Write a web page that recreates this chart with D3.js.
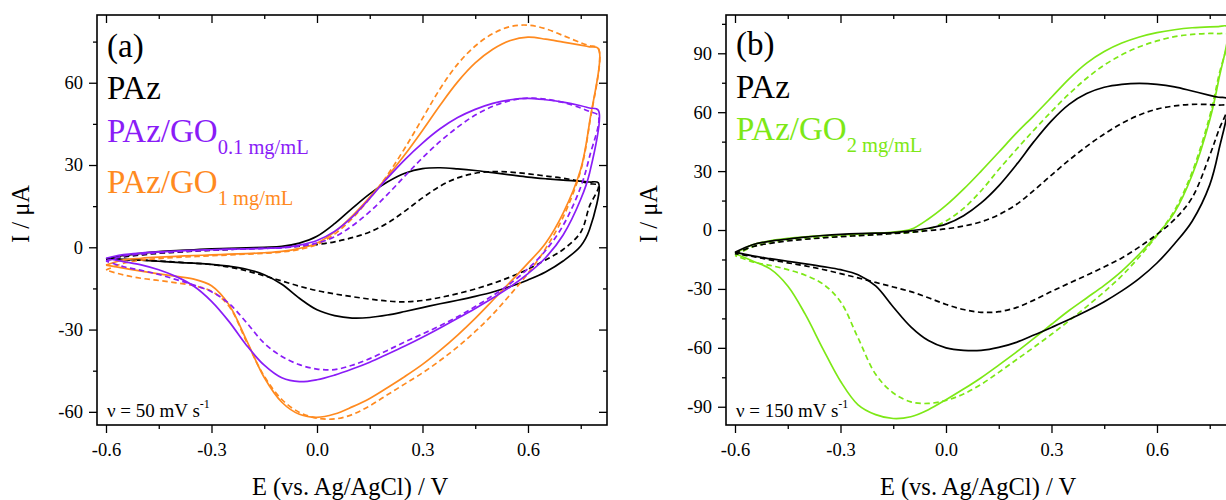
<!DOCTYPE html>
<html>
<head>
<meta charset="utf-8">
<script src="https://cdn.jsdelivr.net/npm/d3@7"></script>
<style>
  body { margin: 0; background: #fff; }
</style>
</head>
<body>
<div id="chart"></div>
<script>
// potential grid (V), shared by every curve; the last points are closer to catch the vertex
const E_GRID = [-0.6, -0.55, -0.5, -0.45, -0.4, -0.35, -0.3, -0.25, -0.2, -0.15, -0.1, -0.05,
  0, 0.05, 0.1, 0.15, 0.2, 0.25, 0.3, 0.35, 0.4, 0.45, 0.5, 0.55, 0.6, 0.65, 0.7, 0.75, 0.775, 0.8];

// ---- panel (a), 50 mV/s : anodic (forward) and cathodic (reverse) branches, uA
const PAZ_A_SOLID_FWD = [-4.2, -3.0, -2.2, -1.6, -1.2, -0.9, -0.6, -0.4, -0.2, 0, 0.3, 1.5,
  4.0, 8.6, 14.2, 19.5, 23.8, 27.0, 28.7, 29.0, 28.6, 28.0, 27.2, 26.4, 25.6, 25.0, 24.5, 24.1, 23.8, 23.5];
const PAZ_A_SOLID_REV = [-4.2, -4.4, -4.7, -5.1, -5.5, -5.8, -6.2, -6.9, -8.0, -10.0, -13.5, -18.6,
  -22.8, -24.9, -25.8, -25.6, -24.7, -23.4, -22.0, -20.6, -19.3, -17.9, -16.3, -14.3, -11.9, -9.0, -5.0, 0.5, 6.5, 23.5];
const PAZ_A_DASH_FWD = [-4.4, -3.5, -2.8, -2.2, -1.8, -1.4, -1.1, -0.8, -0.5, -0.3, 0, 0.4,
  1.0, 2.0, 3.5, 5.6, 8.8, 13.2, 18.0, 22.3, 25.3, 27.0, 27.6, 27.4, 26.8, 26.0, 25.2, 24.0, 23.2, 22.5];
const PAZ_A_DASH_REV = [-4.4, -4.5, -4.7, -5.0, -5.4, -5.8, -6.3, -7.2, -8.6, -10.4, -12.3, -14.2,
  -15.8, -17.0, -18.0, -18.9, -19.6, -19.9, -19.4, -18.3, -16.9, -15.2, -13.2, -10.8, -8.0, -4.6, -0.8, 5.5, 15.0, 22.5];

const GO01_SOLID_FWD = [-4.0, -2.7, -2.1, -1.7, -1.4, -1.1, -0.9, -0.7, -0.6, -0.4, -0.1, 0.8,
  2.5, 5.8, 11.0, 17.8, 25.2, 32.0, 38.0, 43.2, 47.3, 50.3, 52.5, 53.8, 54.3, 53.8, 52.9, 51.6, 50.8, 50.0];
const GO01_SOLID_REV = [-4.0, -5.2, -6.4, -8.2, -10.7, -14.2, -19.7, -27.1, -35.8, -43.0, -47.6, -49.0,
  -48.3, -46.6, -44.4, -41.9, -39.0, -36.0, -32.8, -29.4, -25.9, -22.3, -18.5, -14.4, -9.6, -3.8, 4.5, 17.5, 27.0, 50.0];
const GO01_DASH_FWD = [-5.0, -3.2, -2.5, -2.0, -1.6, -1.3, -1.0, -0.8, -0.6, -0.4, -0.2, 0.4,
  1.5, 3.8, 7.8, 13.0, 19.2, 26.0, 32.6, 38.6, 43.8, 48.2, 51.4, 53.5, 54.4, 54.0, 52.8, 50.8, 49.5, 48.0];
const GO01_DASH_REV = [-5.0, -7.1, -8.4, -9.9, -11.8, -13.8, -16.2, -20.5, -27.5, -35.0, -39.8, -42.8,
  -44.4, -44.6, -43.0, -40.6, -37.6, -34.5, -31.6, -28.6, -25.3, -21.6, -17.6, -13.2, -7.8, -1.2, 8.0, 22.0, 33.0, 48.0];

const GO1_SOLID_FWD = [-6.5, -4.6, -4.0, -3.6, -3.3, -3.0, -2.8, -2.5, -2.3, -2.0, -1.5, -0.4,
  1.5, 5.6, 11.4, 18.3, 25.7, 33.8, 42.6, 51.8, 60.3, 67.2, 72.2, 75.4, 76.6, 75.9, 74.8, 73.7, 73.1, 72.5];
const GO1_SOLID_REV = [-6.5, -7.6, -8.7, -9.7, -10.6, -11.6, -14.0, -21.0, -34.0, -47.5, -56.5, -60.9,
  -62.0, -60.8, -58.2, -55.1, -51.2, -47.1, -42.7, -37.6, -32.0, -25.9, -19.3, -12.6, -5.8, 1.5, 12.5, 28.5, 45.5, 72.5];
const GO1_DASH_FWD = [-8.3, -5.8, -4.7, -4.1, -3.7, -3.4, -3.1, -2.8, -2.5, -2.2, -1.7, -0.8,
  1.0, 4.8, 10.5, 17.8, 26.3, 36.2, 47.0, 57.8, 66.8, 73.4, 77.9, 80.5, 81.0, 79.7, 77.2, 74.6, 73.5, 72.5];
const GO1_DASH_REV = [-8.3, -10.1, -11.3, -12.1, -13.0, -14.0, -16.0, -21.5, -34.5, -47.0, -55.5, -60.2,
  -62.3, -62.6, -61.0, -57.8, -53.8, -49.8, -45.8, -41.3, -36.3, -30.7, -24.4, -17.2, -9.5, -0.5, 11.0, 28.0, 45.0, 72.5];

// ---- panel (b), 150 mV/s
const PAZ_B_SOLID_FWD = [-11.3, -7.5, -5.7, -4.6, -3.6, -2.8, -2.2, -1.8, -1.6, -1.3, -0.4, 0.9,
  3.0, 7.3, 13.8, 22.5, 33.2, 45.0, 55.6, 64.0, 69.5, 72.7, 74.2, 74.7, 74.2, 72.9, 70.8, 68.6, 67.6, 66.8];
const PAZ_B_SOLID_REV = [-11.3, -13.2, -14.6, -15.9, -17.2, -18.6, -20.2, -22.8, -28.5, -39.2, -49.3, -56.3,
  -60.0, -61.3, -61.3, -59.8, -57.2, -53.5, -49.6, -45.6, -41.3, -36.5, -31.0, -24.6, -16.8, -7.0, 4.5, 23.0, 40.0, 66.8];
const PAZ_B_DASH_FWD = [-12.0, -8.5, -6.8, -5.6, -4.7, -4.0, -3.4, -2.9, -2.4, -1.8, -1.2, -0.3,
  0.6, 2.0, 4.2, 7.8, 13.0, 20.2, 28.0, 35.6, 42.6, 48.9, 54.3, 58.6, 61.6, 63.2, 64.0, 63.9, 63.6, 63.2];
const PAZ_B_DASH_REV = [-12.0, -13.5, -15.2, -16.7, -18.3, -20.1, -22.2, -24.4, -26.7, -29.0, -31.4, -34.5,
  -37.9, -40.5, -41.9, -41.6, -39.5, -35.7, -31.3, -27.1, -23.0, -18.8, -14.2, -8.6, -2.2, 5.4, 16.5, 38.0, 50.5, 63.2];

const GO2_SOLID_FWD = [-12.0, -7.5, -5.5, -4.3, -3.5, -2.9, -2.5, -2.1, -1.6, -1.0, 0.3, 5.6,
  12.5, 20.8, 30.0, 39.6, 49.3, 58.3, 67.6, 77.0, 85.0, 90.9, 95.2, 98.3, 100.5, 102.0, 103.0, 103.5, 103.6, 103.6];
const GO2_SOLID_REV = [-12.0, -15.8, -19.8, -28.5, -43.0, -60.5, -77.0, -89.0, -94.0, -96.0, -95.1, -91.5,
  -86.4, -81.0, -75.2, -68.8, -62.2, -55.2, -48.0, -41.0, -34.6, -28.2, -20.9, -12.2, -2.5, 9.0, 28.0, 56.0, 76.0, 103.6];
const GO2_DASH_FWD = [-13.0, -8.5, -6.5, -5.2, -4.3, -3.6, -3.1, -2.7, -2.2, -1.6, -1.2, 0.3,
  4.6, 11.0, 20.0, 30.8, 41.0, 50.9, 60.4, 69.3, 77.3, 84.0, 89.2, 93.3, 96.3, 98.5, 99.6, 100.1, 100.0, 99.7];
const GO2_DASH_REV = [-13.0, -16.2, -18.0, -20.2, -23.0, -27.5, -36.5, -55.0, -73.5, -83.0, -87.5, -88.3,
  -86.8, -83.5, -78.6, -72.5, -66.1, -59.7, -53.1, -46.2, -39.0, -31.5, -23.3, -13.6, -2.8, 10.0, 29.5, 58.0, 78.0, 99.7];

// ticks
const X_TICKS = [-0.6, -0.3, 0, 0.3, 0.6];
const X_MINOR = [-0.45, -0.15, 0.15, 0.45, 0.75];
const Y_TICKS_A = [-60, -30, 0, 30, 60];
const Y_MINOR_A = [-45, -15, 15, 45, 75];
const Y_TICKS_B = [-90, -60, -30, 0, 30, 60, 90];
const Y_MINOR_B = [-75, -45, -15, 15, 45, 75, 105];

const BLACK = "#000000";
const PURPLE = "#8a1cf7";
const ORANGE = "#ff8a1f";
const GREEN = "#7de816";
const FONT = "'Liberation Serif', 'DejaVu Serif', 'Times New Roman', serif";

function main(container) {
  const sel = d3.select(container);
  const width = 1226;
  const height = 500;

  const svg = sel.append("svg").attr("width", width).attr("height", height)
    .attr("font-family", FONT);
  const defs = svg.append("defs");

  const loop = (fwd, rev) => {
    const pts = E_GRID.map((e, i) => [e, fwd[i]]);
    for (let i = E_GRID.length - 2; i >= 0; i--) pts.push([E_GRID[i], rev[i]]);
    return pts;
  };

  const panels = [
    {
      id: "a", left: 97, top: 15, w: 510, h: 410,
      yDomain: [-64.8, 84.7], yTicks: Y_TICKS_A, yMinor: Y_MINOR_A,
      tag: "(a)", rate: "50", ylabelX: 29, xlabelX: 350,
      curves: [
        { d: loop(PAZ_A_DASH_FWD, PAZ_A_DASH_REV), c: BLACK, dash: true },
        { d: loop(PAZ_A_SOLID_FWD, PAZ_A_SOLID_REV), c: BLACK },
        { d: loop(GO1_DASH_FWD, GO1_DASH_REV), c: ORANGE, dash: true },
        { d: loop(GO1_SOLID_FWD, GO1_SOLID_REV), c: ORANGE },
        { d: loop(GO01_DASH_FWD, GO01_DASH_REV), c: PURPLE, dash: true },
        { d: loop(GO01_SOLID_FWD, GO01_SOLID_REV), c: PURPLE },
      ],
      legend: [
        { y: 99, c: BLACK, main: "PAz" },
        { y: 142, c: PURPLE, main: "PAz/GO", sub: "0.1 mg/mL" },
        { y: 193, c: ORANGE, main: "PAz/GO", sub: "1 mg/mL" },
      ],
    },
    {
      id: "b", left: 726, top: 15, w: 510, h: 410,
      yDomain: [-99.3, 109.5], yTicks: Y_TICKS_B, yMinor: Y_MINOR_B,
      tag: "(b)", rate: "150", ylabelX: 657, xlabelX: 978,
      curves: [
        { d: loop(GO2_DASH_FWD, GO2_DASH_REV), c: GREEN, dash: true },
        { d: loop(GO2_SOLID_FWD, GO2_SOLID_REV), c: GREEN },
        { d: loop(PAZ_B_DASH_FWD, PAZ_B_DASH_REV), c: BLACK, dash: true },
        { d: loop(PAZ_B_SOLID_FWD, PAZ_B_SOLID_REV), c: BLACK },
      ],
      legend: [
        { y: 98, c: BLACK, main: "PAz" },
        { y: 140, c: GREEN, main: "PAz/GO", sub: "2 mg/mL" },
      ],
    },
  ];

  panels.forEach((p) => {
    const x = d3.scaleLinear().domain([-0.6256, 0.8247]).range([p.left, p.left + p.w]);
    const y = d3.scaleLinear().domain(p.yDomain).range([p.top + p.h, p.top]);
    const bottom = p.top + p.h;
    const right = p.left + p.w;

    defs.append("clipPath").attr("id", "clip-" + p.id)
      .append("rect")
      .attr("x", p.left).attr("y", p.top)
      .attr("width", p.w).attr("height", p.h);

    // curves
    const line = d3.line()
      .x((d) => x(d[0]))
      .y((d) => y(d[1]))
      .curve(d3.curveCatmullRom.alpha(0.5));

    const g = svg.append("g").attr("clip-path", `url(#clip-${p.id})`);
    g.selectAll("path")
      .data(p.curves)
      .enter()
      .append("path")
      .attr("d", (d) => line(d.d))
      .attr("fill", "none")
      .attr("stroke", (d) => d.c)
      .attr("stroke-width", 1.7)
      .attr("stroke-dasharray", (d) => (d.dash ? "5.5,3.5" : null))
      .attr("stroke-linejoin", "round");

    // axes (left/bottom outward, top/right inward)
    const styleAxis = (ax) => {
      ax.attr("font-family", FONT);
      ax.select(".domain").remove();
      ax.selectAll("line").attr("stroke", "#000").attr("stroke-width", 1.3);
      ax.selectAll("text")
        .attr("font-size", "18.5px")
        .attr("fill", "#000");
    };

    const axB = svg.append("g").attr("transform", `translate(0,${bottom})`)
      .call(d3.axisBottom(x).tickValues(X_TICKS).tickSize(8).tickPadding(10)
        .tickFormat((d) => d.toFixed(1)));
    styleAxis(axB);
    styleAxis(svg.append("g").attr("transform", `translate(0,${bottom})`)
      .call(d3.axisBottom(x).tickValues(X_MINOR).tickSize(4).tickFormat("")));

    const axL = svg.append("g").attr("transform", `translate(${p.left},0)`)
      .call(d3.axisLeft(y).tickValues(p.yTicks).tickSize(8).tickPadding(6)
        .tickFormat((d) => String(d)));
    styleAxis(axL);
    styleAxis(svg.append("g").attr("transform", `translate(${p.left},0)`)
      .call(d3.axisLeft(y).tickValues(p.yMinor).tickSize(4).tickFormat("")));

    styleAxis(svg.append("g").attr("transform", `translate(0,${p.top})`)
      .call(d3.axisTop(x).tickValues(X_TICKS).tickSize(-8).tickFormat("")));
    styleAxis(svg.append("g").attr("transform", `translate(0,${p.top})`)
      .call(d3.axisTop(x).tickValues(X_MINOR).tickSize(-4).tickFormat("")));
    styleAxis(svg.append("g").attr("transform", `translate(${right},0)`)
      .call(d3.axisRight(y).tickValues(p.yTicks).tickSize(-8).tickFormat("")));
    styleAxis(svg.append("g").attr("transform", `translate(${right},0)`)
      .call(d3.axisRight(y).tickValues(p.yMinor).tickSize(-4).tickFormat("")));

    // frame
    svg.append("rect")
      .attr("x", p.left).attr("y", p.top)
      .attr("width", p.w).attr("height", p.h)
      .attr("fill", "none")
      .attr("stroke", "#000")
      .attr("stroke-width", 1.6);

    // axis titles
    svg.append("text")
      .attr("x", p.xlabelX).attr("y", 495)
      .attr("text-anchor", "middle")
      .attr("font-size", "24.5px")
      .text("E (vs. Ag/AgCl) / V");

    svg.append("text")
      .attr("transform", `translate(${p.ylabelX},214) rotate(-90)`)
      .attr("text-anchor", "middle")
      .attr("font-size", "24.5px")
      .text("I / μA");

    // panel tag and legend
    const lx = p.left + 10;
    svg.append("text")
      .attr("x", lx).attr("y", p.id === "a" ? 57 : 55)
      .attr("font-size", "33px")
      .text(p.tag);

    p.legend.forEach((l) => {
      const t = svg.append("text")
        .attr("x", lx).attr("y", l.y)
        .attr("font-size", "33px")
        .attr("fill", l.c);
      t.append("tspan").text(l.main);
      if (l.sub) {
        t.append("tspan")
          .attr("font-size", "20.5px")
          .attr("dy", 12)
          .text(l.sub);
      }
    });

    const r = svg.append("text")
      .attr("x", lx).attr("y", 416.5)
      .attr("font-size", "19px")
      .attr("fill", "#000");
    r.append("tspan").text(`ν = ${p.rate} mV s`);
    r.append("tspan").attr("font-size", "12px").attr("dy", -9).text("-1");
  });
}

main(document.getElementById("chart"));
</script>
</body>
</html>
